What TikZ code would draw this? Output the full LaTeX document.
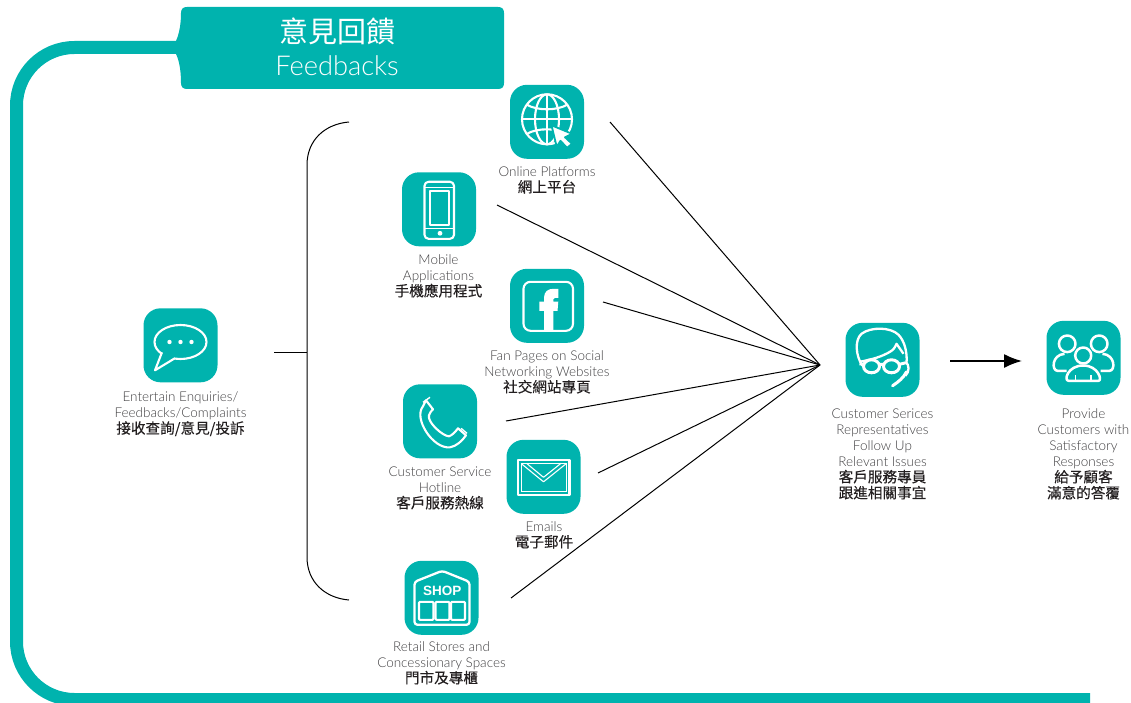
\documentclass[tikz,border=0pt]{standalone}
\usepackage{fontspec}
\setmainfont{Lato}[UprightFont=* Light]
\newfontfamily\cjkfont{Noto Sans CJK TC}
\newfontfamily\cjkmed[FakeBold=0.25]{Noto Sans CJK TC}
\usetikzlibrary{arrows.meta}
\definecolor{brand}{HTML}{00B3AE}
\definecolor{englishgray}{HTML}{414042}
\definecolor{zhdark}{HTML}{231F20}
\newcommand\labfont{\fontsize{13.5}{16}\selectfont}
\newcommand\zh[1]{{\cjkmed\fontsize{14.6}{16}\selectfont\textcolor{zhdark}{#1}}}
\tikzset{
  iconbox/.style={fill=brand,rounded corners=17pt,minimum width=74pt,minimum height=74pt,inner sep=0pt,draw=none},
  iconline/.style={draw=white,line width=2.1pt,line join=round,fill=none},
  lab/.style={align=center,font=\labfont,text=englishgray,inner sep=0pt},
  link/.style={draw=black,line width=1pt},
}
\begin{document}
\begin{tikzpicture}[x=1pt,y=-1pt]
\useasboundingbox (0,0) rectangle (1131,703);
\clip (0,0) rectangle (1131,703);
% frame
\draw[brand,line width=13pt,rounded corners=58pt] (185,47.5) -- (16.5,47.5) -- (16.5,699.5) -- (1090,699.5);
\fill[brand] (187,7) -- (498,7) .. controls (502,7) and (504,9) .. (504,13) -- (504,83) .. controls (504,87) and (502,89) .. (498,89)
  -- (187,89) .. controls (183,89) and (181,87) .. (181,83) .. controls (181,70) and (179,60) .. (176,54) -- (176,41)
  .. controls (179,34) and (181,25) .. (181,13) .. controls (181,9) and (183,7) .. (187,7) -- cycle;
\node[text=white,inner sep=0pt,font=\cjkfont\fontsize{29}{30}\selectfont] (titlezh) at (337.5,31.5) {意見回饋};
\node[text=white,inner sep=0pt,font=\fontsize{27.3}{30}\selectfont] (titleen) at (337,65.5) {Feedbacks};

% connectors
\coordinate (hub) at (820,365);
\coordinate (s1) at (610,122);
\coordinate (s2) at (497,205);
\coordinate (s3) at (603,302);
\coordinate (s4) at (506,421);
\coordinate (s5) at (598,473);
\coordinate (s6) at (511,598);
\foreach \s in {s1,s2,s3,s4,s5,s6} \draw[link] (\s) -- (hub);
\coordinate (j0) at (274,352);
\coordinate (j1) at (307,352);
\coordinate (b1) at (349,122);
\coordinate (b2) at (349,600);
\draw[link] (j0) -- (j1);
\draw[link] (b1) .. controls (325,124) and (307,140) .. (307,165) -- (307,557) .. controls (307,582) and (325,598) .. (b2);
\coordinate (a1) at (950,361);
\coordinate (a2) at (1022,361);
\draw[draw=black,line width=1.7pt,-{Latex[length=18pt,width=14pt]}] (a1) -- (a2);

% boxes
\node[iconbox] (chat) at (180.5,345.3) {};
\node[iconbox] (globe) at (547,121.8) {};
\node[iconbox] (phone) at (439,209.3) {};
\node[iconbox] (fb) at (547,305.8) {};
\node[iconbox] (tel) at (440,421.3) {};
\node[iconbox] (mail) at (543.5,476.8) {};
\node[iconbox] (shop) at (441.5,597.8) {};
\node[iconbox] (agent) at (882.5,359.8) {};
\node[iconbox] (people) at (1083.5,357.8) {};

% chat
\begin{scope}[shift={(chat.center)}]
\draw[iconline] (0,-3.3) ellipse [x radius=26,y radius=17];
\fill[brand] (-18,5) -- (-7,10) -- (-6,16) -- (-20,14) -- cycle;
\draw[iconline] (-18.5,7) -- (-25.5,25) -- (-6,13.2);
\foreach \d in {-11,0,11} \fill[white] (\d,-3.3) circle (2.2);
\end{scope}
% globe
\begin{scope}[shift={(globe.center)}]
\draw[iconline] (0,-2.5) circle (25);
\draw[iconline] (0,-2.5) ellipse [x radius=12,y radius=25];
\draw[iconline] (0,-27.5) -- (0,22.5);
\draw[iconline] (-25,-2.5) -- (25,-2.5);
\draw[iconline] (-20,-17) .. controls (-10,-11) and (10,-11) .. (20,-17);
\draw[iconline] (-20,12) .. controls (-10,6) and (10,6) .. (20,12);
\filldraw[fill=white,draw=brand,line width=1.8pt,line join=round] (4.5,3.5) -- (25,12) -- (18,15.5) -- (25,22) -- (20,26) -- (13.5,19) -- (9.7,25) -- cycle;
\end{scope}
% phone
\begin{scope}[shift={(phone.center)}]
\draw[iconline,rounded corners=4pt] (-14.5,-27.5) rectangle (15,29.5);
\draw[iconline,line width=1.5pt] (-9,-18.5) rectangle (10,15.5);
\draw[white,line width=1.2pt] (-14,-22) -- (14.5,-22) (-14,19.5) -- (14.5,19.5);
\fill[white] (1,24) circle (2.4);
\end{scope}
% facebook
\begin{scope}[shift={(fb.center)}]
\draw[iconline,rounded corners=7pt] (-23.5,-24) rectangle (26,25);
\fill[white] (-3,24) -- (-3,5) -- (-7.7,5) -- (-7.7,-4.3) -- (-3,-4.3) -- (-3,-8)
  .. controls (-3,-14) and (1,-17) .. (6,-17) -- (11.3,-17) -- (11.3,-8) -- (8,-8)
  .. controls (6.8,-8) and (6.3,-7.5) .. (6.3,-6.5) -- (6.3,-4.3) -- (11.3,-4.3) -- (10.5,5) -- (6.3,5) -- (6.3,24) -- cycle;
\end{scope}
% telephone
\begin{scope}[shift={(tel.center)}]
\draw[iconline] (-17,-15) .. controls (-27,-3) and (-7,28) .. (10,26) .. controls (16,25) and (22,20) .. (26,14)
  -- (18,7) .. controls (15,11) and (12,14) .. (9,15) .. controls (3,15) and (-13,1) .. (-11,-6) .. controls (-10,-9) and (-9,-10) .. (-7,-12) -- (-14,-21) -- cycle;
\draw[white,line width=1.4pt] (-17,-19) -- (-10,-24) (21,7) -- (27,12);
\end{scope}
% mail
\begin{scope}[shift={(mail.center)}]
\draw[iconline,line width=2.3pt] (-25.5,-17) rectangle (26,18.5);
\draw[white,line width=0.9pt] (-22,-13.5) rectangle (22.5,15);
\draw[white,line width=1.1pt,line join=round] (-22,-13) -- (0,5) -- (22.5,-13);
\draw[white,line width=1.1pt,line join=round] (-17,-13.5) -- (0,0.5) -- (17.5,-13.5);
\end{scope}
% shop
\begin{scope}[shift={(shop.center)}]
\draw[iconline,line width=2.3pt,rounded corners=3pt] (-27,27) -- (-27,-16) -- (0.7,-27) -- (28,-16) -- (28,27) -- cycle;
\foreach \xa/\xb in {-22.5/-8,-6/8,9.5/23.5}
  \draw[iconline,rounded corners=1pt] (\xa,4) rectangle (\xb,22);
\node[text=white,inner sep=0pt,font=\fontspec{Liberation Sans}\bfseries\fontsize{13.5}{13}\selectfont] (shoptext) at (0.7,-7) {SHOP};
\end{scope}
% agent
\begin{scope}[shift={(agent.center)},iconline/.append style={line width=2.3pt}]
\draw[iconline] (-20,6) .. controls (-27,-4) and (-28,-20) .. (-21,-26) .. controls (-12,-33) and (8,-33) .. (16,-25)
  .. controls (22,-19) and (25,-7) .. (24,3);
\draw[iconline] (-23,2) .. controls (-12,0) and (0,-3) .. (9,-9) .. controls (12,-11) and (13,-14) .. (14,-16) -- (21,-6);
\draw[iconline,line width=3pt] (-11,6.5) ellipse [x radius=8,y radius=6.5];
\draw[iconline,line width=3pt] (9,6.5) ellipse [x radius=8,y radius=6.5];
\draw[iconline,line width=3pt] (-23,4) -- (-19,4.5) (-3,4.5) -- (1,4.5) (17,4.5) -- (23,3);
\draw[iconline] (23,2) .. controls (27,5) and (27,12) .. (23,16);
\draw[white,line width=3pt,line cap=round] (24,12) .. controls (21,18) and (16,22) .. (10,26);
\end{scope}
% people
\begin{scope}[shift={(people.center)},iconline/.append style={line width=2.5pt}]
\draw[iconline] (-16.3,-14) circle (8.3);
\draw[iconline] (15.7,-14) circle (8.3);
\fill[brand] (-0.3,-2.3) circle (9.5);
\draw[iconline] (-0.3,-2.3) circle (8);
\draw[iconline] (-15,23) .. controls (-20,23) and (-16,7.7) .. (-0.3,7.7) .. controls (15,7.7) and (19,23) .. (15,23) -- cycle;
\draw[iconline] (-17,13) -- (-26,13) .. controls (-32,13) and (-32,-3) .. (-19,-4);
\draw[iconline] (17,13) -- (26,13) .. controls (32,13) and (32,-3) .. (19,-4);
\draw[white,line width=1.4pt] (-8,17) -- (-8,23) (7.5,17) -- (7.5,23);
\end{scope}

% labels
\node[lab] (lchat) at (180.5,414) {Entertain Enquiries/\\Feedbacks/Complaints\\\zh{接收查詢/意見/投訴}};
\node[lab] (lglobe) at (547,180) {Online Platforms\\\zh{網上平台}};
\node[lab] (lphone) at (438.5,276) {Mobile\\Applications\\\zh{手機應用程式}};
\node[lab] (lfb) at (547,372) {Fan Pages on Social\\Networking Websites\\\zh{社交網站專頁}};
\node[lab] (ltel) at (440,488) {Customer Service\\Hotline\\\zh{客戶服務熱線}};
\node[lab] (lmail) at (544,535) {Emails\\\zh{電子郵件}};
\node[lab] (lshop) at (441.5,663) {Retail Stores and\\Concessionary Spaces\\\zh{門市及專櫃}};
\node[lab] (lagent) at (882.5,454) {Customer Serices\\Representatives\\Follow Up\\Relevant Issues\\\zh{客戶服務專員}\\\zh{跟進相關事宜}};
\node[lab] (lpeople) at (1083.5,454) {Provide\\Customers with\\Satisfactory\\Responses\\\zh{給予顧客}\\\zh{滿意的答覆}};
\end{tikzpicture}
\end{document}
